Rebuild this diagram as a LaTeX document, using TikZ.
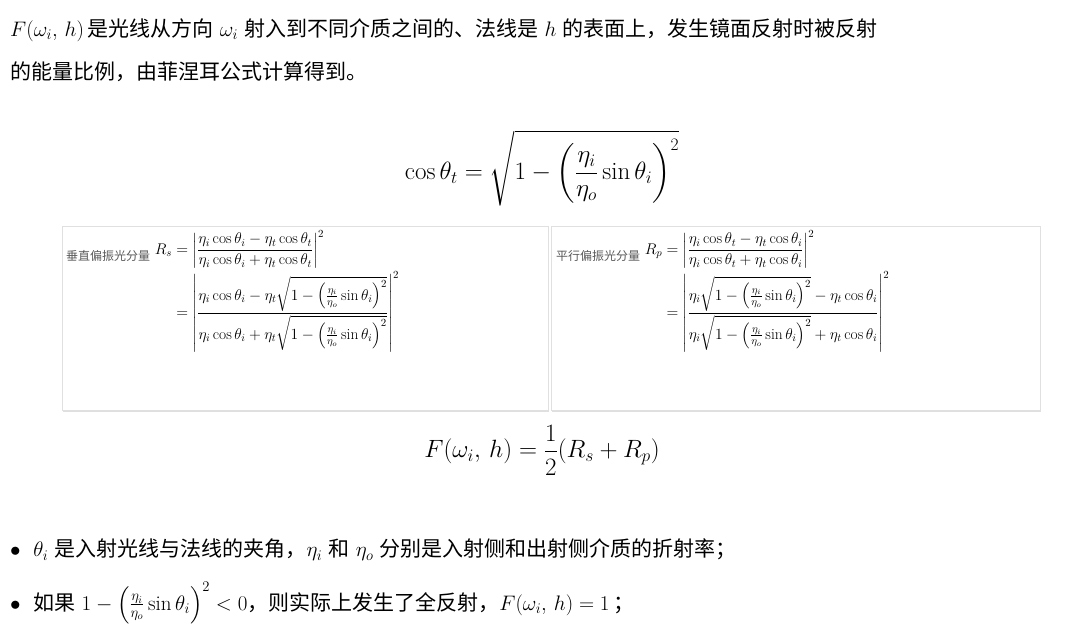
\RequirePackage{fix-cm}
\documentclass[tikz,border=0pt]{standalone}
\usepackage{amsmath}
\usepackage{fontspec}
\newfontfamily\cjk{Noto Sans CJK SC}
\usetikzlibrary{shadows}
\tikzset{
 txt/.style={anchor=west,inner sep=0pt,font=\fontsize{21}{25}\selectfont},
 panel/.style={draw=black!12,fill=white,drop shadow={opacity=0.25,shadow xshift=1pt,shadow yshift=-2pt}},
 boxtxt/.style={anchor=north west,inner sep=0pt,font=\fontsize{15.5}{19}\selectfont},
 lab/.style={text=black!65,font=\cjk\fontsize{12}{14}\selectfont}
}
\begin{document}
\begin{tikzpicture}[x=1pt,y=-1pt]
\useasboundingbox (0,0) rectangle (1086,629);
\node[txt] (l1) at (10,30) {$F(\omega_i,\,h)$\,{\cjk 是光线从方向} $\omega_i$ {\cjk 射入到不同介质之间的、法线是} $h$ {\cjk 的表面上，发生镜面反射时被反射}};
\node[txt] (l2) at (10,72) {\cjk 的能量比例，由菲涅耳公式计算得到。};
\node[inner sep=0pt,font=\fontsize{25}{30}\selectfont] (ct) at (542,168) {$\displaystyle \cos\theta_t=\sqrt{1-\left(\frac{\eta_i}{\eta_o}\sin\theta_i\right)^2}$};
\node[panel,minimum width=486,minimum height=184,anchor=north west] (bl) at (62,226) {};
\node[panel,minimum width=489,minimum height=184,anchor=north west] (br) at (551,226) {};
\node[boxtxt] (tl) at (66,230) {$\displaystyle\begin{aligned}\text{\tikz[baseline=-0.6ex]\node[lab,inner sep=0pt]{垂直偏振光分量};}\ R_s&=\left|\frac{\eta_i\cos\theta_i-\eta_t\cos\theta_t}{\eta_i\cos\theta_i+\eta_t\cos\theta_t}\right|^2\\
&=\left|\frac{\eta_i\cos\theta_i-\eta_t\sqrt{1-\left(\frac{\eta_i}{\eta_o}\sin\theta_i\right)^2}}{\eta_i\cos\theta_i+\eta_t\sqrt{1-\left(\frac{\eta_i}{\eta_o}\sin\theta_i\right)^2}}\right|^2\end{aligned}$};
\node[boxtxt] (tr) at (556,230) {$\displaystyle\begin{aligned}\text{\tikz[baseline=-0.6ex]\node[lab,inner sep=0pt]{平行偏振光分量};}\ R_p&=\left|\frac{\eta_i\cos\theta_t-\eta_t\cos\theta_i}{\eta_i\cos\theta_t+\eta_t\cos\theta_i}\right|^2\\
&=\left|\frac{\eta_i\sqrt{1-\left(\frac{\eta_i}{\eta_o}\sin\theta_i\right)^2}-\eta_t\cos\theta_i}{\eta_i\sqrt{1-\left(\frac{\eta_i}{\eta_o}\sin\theta_i\right)^2}+\eta_t\cos\theta_i}\right|^2\end{aligned}$};
\node[inner sep=0pt,font=\fontsize{25}{30}\selectfont] (ff) at (542,450) {$\displaystyle F(\omega_i,\,h)=\frac12(R_s+R_p)$};
\node[txt] (b1) at (10,550) {$\bullet$\ \ $\theta_i$ {\cjk 是入射光线与法线的夹角，}$\eta_i$ {\cjk 和} $\eta_o$ {\cjk 分别是入射侧和出射侧介质的折射率；}};
\node[txt] (b2) at (10,603) {$\bullet$\ \ {\cjk 如果} $1-\left(\frac{\eta_i}{\eta_o}\sin\theta_i\right)^2<0${\cjk ，则实际上发生了全反射，}$F(\omega_i,\,h)=1$\,{\cjk ；}};
\end{tikzpicture}
\end{document}
